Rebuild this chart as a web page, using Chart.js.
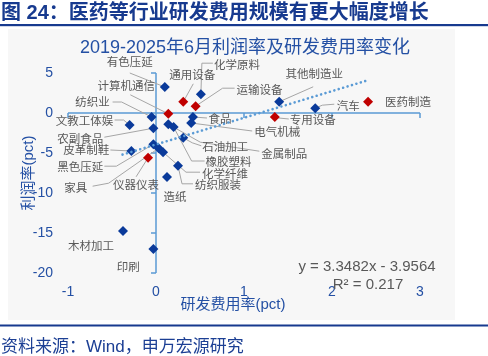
<!DOCTYPE html>
<html><head><meta charset="utf-8">
<script src="https://cdn.jsdelivr.net/npm/chart.js@4"></script>
<style>html,body{margin:0;padding:0;background:#fff;}canvas{display:block;}</style>
</head><body>
<canvas id="c" width="488" height="356"></canvas>
<script>
// ---------- DATA ----------
const categories = ['有色压延','化学原料','通用设备','运输设备','计算机通信','纺织业','食品','电气机械','文教工体娱','农副食品','金属制品','橡胶塑料','石油加工','皮革制鞋','黑色压延','家具','化学纤维','仪器仪表','纺织服装','造纸','木材加工','印刷','其他制造业','汽车','医药制造','专用设备'];
const rdRateChange = [0.10,0.51,0.31,0.45,0.14,-0.05,0.42,0.40,-0.30,-0.03,0.14,0.20,0.31,-0.28,-0.03,0.03,0.08,-0.09,0.25,0.125,-0.375,-0.03,1.40,1.81,2.41,1.35];
const profitRateChange = [3.25,2.35,1.4,0.85,-0.1,-0.5,-0.5,-1.25,-1.5,-1.9,-1.4,-1.75,-3.1,-4.75,-3.9,-4.4,-4.9,-5.6,-6.6,-8.0,-14.75,-17.0,1.4,0.6,1.4,-0.5];
const highlighted = [0,0,1,1,1,0,0,0,0,0,0,0,0,0,0,0,0,1,0,0,0,0,0,0,1,1];
const xTickValues = [-1,0,1,2,3];
const yTickValues = [5,0,-5,-10,-15,-20];
const trendX = [-0.38, 2.41];
const trendY = [-5.2, 4.1];
const headerText = '图 24：医药等行业研发费用规模有更大幅度增长';
const chartTitle = '2019-2025年6月利润率及研发费用率变化';
const xTitle = '研发费用率(pct)';
const yTitle = '利润率(pct)';
const equationText = 'y = 3.3482x - 3.9564';
const r2Text = 'R² = 0.217';
const sourceText = '资料来源：Wind，申万宏源研究';

// ---------- LABEL LAYOUT (pixel offsets from each point) ----------
const labelLayout = {
 '有色压延':{dx:-35,dy:-25,path:[[-35,-14]]},
 '化学原料':{dx:36,dy:-30,path:[[12,-31],[1,-31]]},
 '通用设备':{dx:9,dy:-27,path:[[10,-18]]},
 '运输设备':{dx:64,dy:-17,path:[[39,-18],[27,-18]]},
 '计算机通信':{dx:-42,dy:-28,path:[[-38,-19]]},
 '纺织业':{dx:-59,dy:-15,path:[[-39,-15],[-30,-15]]},
 '食品':{dx:27,dy:2,path:[[14,1]]},
 '电气机械':{dx:86,dy:9,path:[[61,8]]},
 '文教工体娱':{dx:-45,dy:-4,path:[[-15,-5],[-6,-5]]},
 '农副食品':{dx:-73,dy:10,path:[[-49,9]]},
 '金属制品':{dx:116,dy:29,path:[[91,27],[32,18]]},
 '橡胶塑料':{dx:55,dy:35,path:[[31,34],[18,34]]},
 '石油加工':{dx:42,dy:9,path:[[18,8],[9,5]]},
 '皮革制鞋':{dx:-45,dy:-1,path:[[-21,-1]]},
 '黑色压延':{dx:-73,dy:22,path:[[-49,22],[-37,22]]},
 '家具':{dx:-83,dy:39,path:[[-66,38],[-50,35]]},
 '化学纤维':{dx:62,dy:21,path:[[37,20],[23,20]]},
 '仪器仪表':{dx:-12,dy:27,path:[[-12,19]]},
 '纺织服装':{dx:40,dy:19,path:[[15,18],[4,18]]},
 '造纸':{dx:8,dy:20,path:null},
 '木材加工':{dx:-32,dy:15,path:null},
 '印刷':{dx:-25,dy:18,path:null},
 '其他制造业':{dx:35,dy:-28,path:[[34,-15]]},
 '汽车':{dx:33,dy:-3,path:[[19,-4],[7,-3]]},
 '医药制造':{dx:40,dy:0,path:null},
 '专用设备':{dx:38,dy:3,path:[[14,2],[4,1]]}
};

const BLUE='#0a3a9a', RED='#c00000', AXIS='#5b9bd5', TXT='#2450a4', GRAY='#595959', LEAD='#a6a6a6';
const LATIN='"Liberation Sans", "Noto Sans CJK SC", sans-serif';
const CJK='"Noto Sans CJK SC", "Liberation Sans", sans-serif';

const points = categories.map((c,i)=>({x:rdRateChange[i], y:profitRateChange[i]}));

const decor = {
 id:'decor',
 beforeDraw(chart){
  const ctx=chart.ctx; ctx.save();
  ctx.fillStyle='#fff'; ctx.fillRect(0,0,488,356);
  ctx.fillStyle='#f7f7f7'; ctx.fillRect(8,29,447,291);
  ctx.fillStyle='#173a8f';
  ctx.font='bold 20px '+LATIN; ctx.textBaseline='middle'; ctx.textAlign='left';
  ctx.fillText(headerText,1,13.5);
  ctx.fillRect(0,24,488,2.2);
  ctx.fillRect(0,324.5,488,2);
  ctx.fillStyle='#1c3f94'; ctx.font='17px '+LATIN;
  ctx.fillText(sourceText,1,347);
  ctx.fillStyle=TXT; ctx.font='18px '+LATIN; ctx.textAlign='center';
  ctx.fillText(chartTitle,245,48);
  ctx.restore();
 },
 beforeDatasetsDraw(chart){
  const ctx=chart.ctx, xs=chart.scales.x, ys=chart.scales.y; ctx.save();
  const x0=xs.getPixelForValue(0), y0=ys.getPixelForValue(0);
  ctx.strokeStyle=AXIS; ctx.lineWidth=1.5;
  ctx.beginPath();
  ctx.moveTo(xs.getPixelForValue(xTickValues[0]),y0); ctx.lineTo(xs.getPixelForValue(xTickValues[xTickValues.length-1]),y0);
  ctx.moveTo(x0,ys.getPixelForValue(yTickValues[0])); ctx.lineTo(x0,ys.getPixelForValue(yTickValues[yTickValues.length-1]));
  xTickValues.forEach(v=>{const p=xs.getPixelForValue(v); ctx.moveTo(p,y0); ctx.lineTo(p,y0+5);});
  yTickValues.forEach(v=>{const p=ys.getPixelForValue(v); ctx.moveTo(x0-5,p); ctx.lineTo(x0,p);});
  ctx.stroke();
  // leaders and labels
  ctx.strokeStyle=LEAD; ctx.lineWidth=1;
  ctx.font='11.5px '+CJK; ctx.fillStyle=GRAY; ctx.textAlign='center'; ctx.textBaseline='middle';
  categories.forEach((c,i)=>{
   const px=xs.getPixelForValue(rdRateChange[i]), py=ys.getPixelForValue(profitRateChange[i]);
   const L=labelLayout[c];
   if(L.path){ctx.beginPath(); ctx.moveTo(px+L.path[0][0],py+L.path[0][1]);
     for(let k=1;k<L.path.length;k++) ctx.lineTo(px+L.path[k][0],py+L.path[k][1]);
     ctx.lineTo(px,py); ctx.stroke();}
   ctx.fillText(c,px+L.dx,py+L.dy);
  });
  // axis titles
  ctx.fillStyle=TXT; ctx.font='15px '+LATIN;
  const ca=chart.chartArea;
  ctx.fillText(xTitle,(ca.left+ca.right)/2-11,305);
  ctx.save(); ctx.translate(29,(ca.top+ca.bottom)/2); ctx.rotate(-Math.PI/2); ctx.fillText(yTitle,0,0); ctx.restore();
  // equation
  ctx.fillStyle=GRAY; ctx.font='15px '+LATIN;
  ctx.fillText(equationText,367,267);
  ctx.fillText(r2Text,368,285);
  ctx.restore();
 }
};

new Chart(document.getElementById('c'),{
 type:'scatter',
 data:{datasets:[
  {type:'line',label:'trend',data:trendX.map((x,i)=>({x,y:trendY[i]})),borderColor:AXIS,borderWidth:2.6,borderDash:[0.01,4.6],borderCapStyle:'round',pointRadius:0,fill:false,order:0},
  {label:'industries',data:points,pointStyle:'rectRot',pointRadius:5,pointHoverRadius:5,borderWidth:0,
   pointBackgroundColor:highlighted.map(h=>h?RED:BLUE),pointBorderColor:highlighted.map(h=>h?RED:BLUE),order:1}
 ]},
 options:{
  responsive:false,devicePixelRatio:1,animation:false,
  layout:{padding:{top:73,right:68,left:0,bottom:0}},
  plugins:{legend:{display:false},tooltip:{enabled:false},title:{display:false}},
  scales:{
   x:{type:'linear',position:'bottom',min:-1,max:3,
      afterBuildTicks(s){s.ticks=xTickValues.map(v=>({value:v}));},
      afterFit(s){s.height=83;},
      ticks:{color:TXT,font:{size:14,family:LATIN},padding:11,maxRotation:0},
      grid:{display:false,drawTicks:false},border:{display:false}},
   y:{type:'linear',position:'left',min:-20,max:5,
      afterBuildTicks(s){s.ticks=yTickValues.map(v=>({value:v}));},
      afterFit(s){s.width=68;},
      ticks:{color:TXT,font:{size:14,family:LATIN},padding:15},
      grid:{display:false,drawTicks:false},border:{display:false}}
  }
 },
 plugins:[decor]
});
</script>
</body></html>
